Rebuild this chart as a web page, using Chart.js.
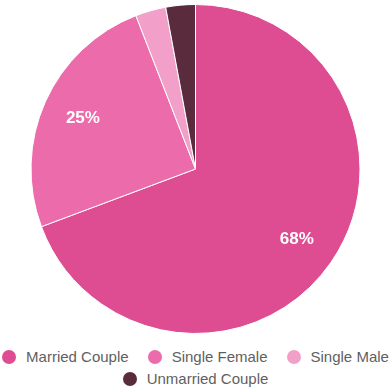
<!DOCTYPE html>
<html>
<head>
<meta charset="utf-8">
<script src="https://cdn.jsdelivr.net/npm/chart.js@4"></script>
<style>
  html, body { margin: 0; padding: 0; background: #fff; }
  #wrap { width: 391px; height: 336px; position: relative; }
  #legend {
    width: 391px;
    margin-top: 12px;
    display: flex;
    flex-wrap: wrap;
    justify-content: center;
    column-gap: 19px;
    row-gap: 5px;
    font: 15px "Liberation Sans", Arial, sans-serif;
    line-height: 17px;
    color: #5f5f5f;
  }
  .item { display: flex; align-items: center; white-space: nowrap; }
  .dot { width: 14px; height: 14px; border-radius: 50%; margin-right: 10px; }
</style>
</head>
<body>
<div id="wrap"><canvas id="pie"></canvas></div>
<div id="legend"></div>
<script>
const categories = ["Married Couple", "Single Female", "Single Male", "Unmarried Couple"];
const shares = [69.3, 24.8, 3.0, 2.9];
const shareLabels = ["68%", "25%", "", ""];
const sliceColors = ["#de4c92", "#ec6cab", "#f2a0c9", "#5a2b3c"];

// percentage labels drawn on the larger slices
const sliceLabels = {
  id: "sliceLabels",
  afterDatasetsDraw(chart) {
    const { ctx } = chart;
    const meta = chart.getDatasetMeta(0);
    ctx.save();
    ctx.font = "bold 17px 'Liberation Sans', Arial, sans-serif";
    ctx.fillStyle = "#ffffff";
    ctx.textAlign = "center";
    ctx.textBaseline = "middle";
    meta.data.forEach((arc, i) => {
      if (!shareLabels[i]) return;
      const mid = (arc.startAngle + arc.endAngle) / 2;
      const r = arc.outerRadius * 0.75;
      ctx.fillText(shareLabels[i], arc.x + Math.cos(mid) * r, arc.y + Math.sin(mid) * r);
    });
    ctx.restore();
  }
};

new Chart(document.getElementById("pie"), {
  type: "pie",
  data: {
    labels: categories,
    datasets: [{
      data: shares,
      backgroundColor: sliceColors,
      borderColor: "#ffffff",
      borderWidth: 1
    }]
  },
  options: {
    animation: false,
    responsive: true,
    maintainAspectRatio: false,
    layout: { padding: { top: 4, bottom: 2 } },
    plugins: {
      tooltip: { enabled: false },
      legend: { display: false }
    }
  },
  plugins: [sliceLabels]
});

// legend under the chart, built from the same arrays
const legendBox = document.getElementById("legend");
categories.forEach((name, i) => {
  const item = document.createElement("div");
  item.className = "item";
  const dot = document.createElement("span");
  dot.className = "dot";
  dot.style.background = sliceColors[i];
  item.appendChild(dot);
  item.appendChild(document.createTextNode(name));
  legendBox.appendChild(item);
});
</script>
</body>
</html>
